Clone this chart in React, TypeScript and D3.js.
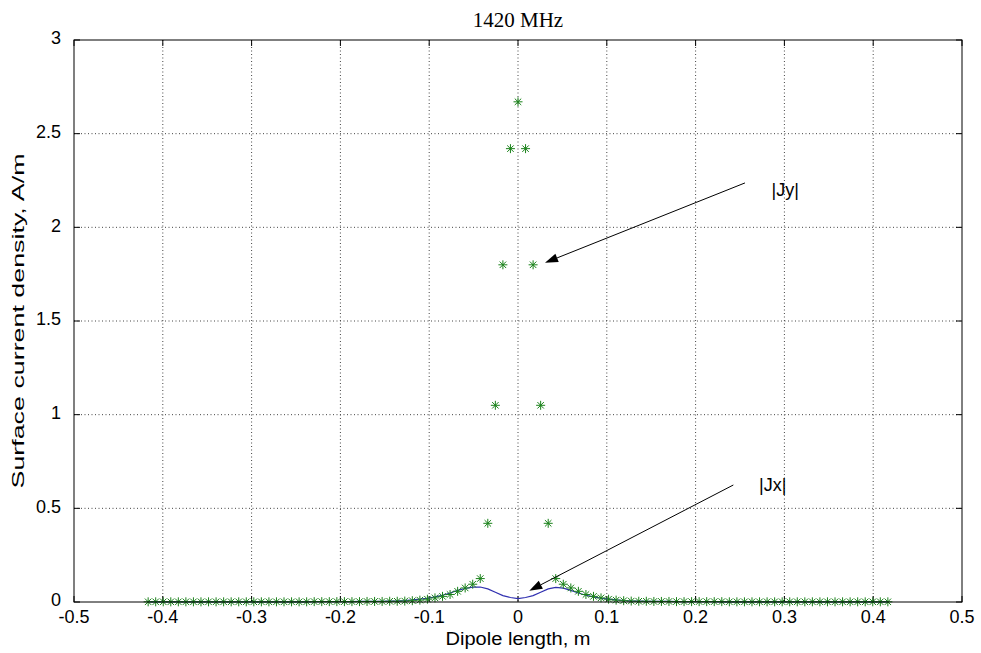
import React from "react";
import * as d3 from "d3";

const xPositions = [
  -0.4165, -0.408, -0.3995, -0.391, -0.3825, -0.374, -0.3655, -0.357, -0.3485, -0.34,
  -0.3315, -0.323, -0.3145, -0.306, -0.2975, -0.289, -0.2805, -0.272, -0.2635, -0.255,
  -0.2465, -0.238, -0.2295, -0.221, -0.2125, -0.204, -0.1955, -0.187, -0.1785, -0.17,
  -0.1615, -0.153, -0.1445, -0.136, -0.1275, -0.119, -0.1105, -0.102, -0.0935, -0.085,
  -0.0765, -0.068, -0.0595, -0.051, -0.0425, -0.034, -0.0255, -0.017, -0.0085, 0,
  0.0085, 0.017, 0.0255, 0.034, 0.0425, 0.051, 0.0595, 0.068, 0.0765, 0.085,
  0.0935, 0.102, 0.1105, 0.119, 0.1275, 0.136, 0.1445, 0.153, 0.1615, 0.17,
  0.1785, 0.187, 0.1955, 0.204, 0.2125, 0.221, 0.2295, 0.238, 0.2465, 0.255,
  0.2635, 0.272, 0.2805, 0.289, 0.2975, 0.306, 0.3145, 0.323, 0.3315, 0.34,
  0.3485, 0.357, 0.3655, 0.374, 0.3825, 0.391, 0.3995, 0.408, 0.4165,
];

// |Jy| samples (asterisks), one per x position
const jyValues = [
  0.001, 0.001, 0.001, 0.001, 0.001, 0.001, 0.001, 0.001, 0.001, 0.001,
  0.001, 0.001, 0.001, 0.001, 0.001, 0.001, 0.001, 0.001, 0.001, 0.001,
  0.001, 0.001, 0.002, 0.002, 0.002, 0.002, 0.002, 0.002, 0.002, 0.003,
  0.003, 0.003, 0.004, 0.004, 0.005, 0.007, 0.01, 0.015, 0.022, 0.03,
  0.04, 0.057, 0.075, 0.095, 0.125, 0.42, 1.05, 1.8, 2.42, 2.67,
  2.42, 1.8, 1.05, 0.42, 0.125, 0.095, 0.075, 0.057, 0.04, 0.03,
  0.022, 0.015, 0.01, 0.007, 0.005, 0.004, 0.004, 0.003, 0.003, 0.003,
  0.002, 0.002, 0.002, 0.002, 0.002, 0.002, 0.002, 0.001, 0.001, 0.001,
  0.001, 0.001, 0.001, 0.001, 0.001, 0.001, 0.001, 0.001, 0.001, 0.001,
  0.001, 0.001, 0.001, 0.001, 0.001, 0.001, 0.001, 0.001, 0.001,
];

// |Jx| samples (solid line), one per x position
const jxValues = [
  0.001, 0.001, 0.001, 0.001, 0.001, 0.001, 0.001, 0.001, 0.001, 0.001,
  0.001, 0.001, 0.001, 0.001, 0.001, 0.001, 0.001, 0.001, 0.001, 0.001,
  0.001, 0.001, 0.002, 0.002, 0.002, 0.002, 0.002, 0.002, 0.003, 0.003,
  0.003, 0.004, 0.005, 0.006, 0.008, 0.011, 0.015, 0.02, 0.027, 0.036,
  0.048, 0.062, 0.072, 0.079, 0.08, 0.07, 0.052, 0.034, 0.024, 0.018,
  0.024, 0.034, 0.052, 0.07, 0.078, 0.074, 0.062, 0.048, 0.036, 0.027,
  0.02, 0.015, 0.011, 0.008, 0.006, 0.005, 0.004, 0.003, 0.003, 0.003,
  0.002, 0.002, 0.002, 0.002, 0.002, 0.002, 0.001, 0.001, 0.001, 0.001,
  0.001, 0.001, 0.001, 0.001, 0.001, 0.001, 0.001, 0.001, 0.001, 0.001,
  0.001, 0.001, 0.001, 0.001, 0.001, 0.001, 0.001, 0.001, 0.001,
];

const xTicks = [-0.5, -0.4, -0.3, -0.2, -0.1, 0, 0.1, 0.2, 0.3, 0.4, 0.5];
const yTicks = [0, 0.5, 1, 1.5, 2, 2.5, 3];

const titleText = "1420 MHz";
const xLabel = "Dipole length, m";
const yLabel = "Surface current density, A/m";

// annotations in data units: arrow tail, arrow head, text anchor
const annotations = [
  { label: "|Jy|", x0: 0.2556, y0: 2.237, x1: 0.0304, y1: 1.811, lx: 0.2855, ly: 2.165 },
  { label: "|Jx|", x0: 0.2425, y0: 0.6246, x1: 0.0127, y1: 0.06, lx: 0.2715, ly: 0.59 },
];

const W = 981;
const H = 653;
const left = 74;
const right = 962;
const top = 40;
const bottom = 602;

export default function App() {
  const x = d3.scaleLinear().domain([-0.5, 0.5]).range([left, right]);
  const y = d3.scaleLinear().domain([0, 3]).range([bottom, top]);
  const jxPts = xPositions.map((v, i) => [v, jxValues[i]] as [number, number]);
  const line = d3
    .line<[number, number]>()
    .x((d) => x(d[0]))
    .y((d) => y(d[1]));
  const fmt = (v: number) => (v === 0 ? "0" : String(v));
  const font = "'Liberation Sans', Arial, sans-serif";
  const star = 4.5;
  const sd = star * 0.72;

  return (
    <svg
      width={W}
      height={H}
      style={{ position: "absolute", left: 0, top: 0, background: "#fff" }}
    >
      <rect x={0} y={0} width={W} height={H} fill="#fff" />
      {/* grid */}
      {xTicks.slice(1, -1).map((t) => (
        <line
          key={"gx" + t}
          x1={x(t)}
          x2={x(t)}
          y1={top}
          y2={bottom}
          stroke="#444"
          strokeWidth={1}
          strokeDasharray="1,2.5"
        />
      ))}
      {yTicks.slice(1, -1).map((t) => (
        <line
          key={"gy" + t}
          x1={left}
          x2={right}
          y1={y(t)}
          y2={y(t)}
          stroke="#444"
          strokeWidth={1}
          strokeDasharray="1,2.5"
        />
      ))}
      {/* ticks */}
      {xTicks.map((t) => (
        <g key={"tx" + t}>
          <line x1={x(t)} x2={x(t)} y1={bottom} y2={bottom - 6} stroke="#000" />
          <line x1={x(t)} x2={x(t)} y1={top} y2={top + 6} stroke="#000" />
          <text
            x={x(t)}
            y={bottom + 21}
            textAnchor="middle"
            fontFamily={font}
            fontSize={18}
          >
            {fmt(t)}
          </text>
        </g>
      ))}
      {yTicks.map((t) => (
        <g key={"ty" + t}>
          <line x1={left} x2={left + 6} y1={y(t)} y2={y(t)} stroke="#000" />
          <line x1={right} x2={right - 6} y1={y(t)} y2={y(t)} stroke="#000" />
          <text
            x={left - 13}
            y={y(t) - 2}
            dy="0.35em"
            textAnchor="end"
            fontFamily={font}
            fontSize={18}
          >
            {fmt(t)}
          </text>
        </g>
      ))}
      {/* Jx line */}
      <path
        d={line(jxPts) || ""}
        fill="none"
        stroke="#3030b0"
        strokeWidth={1.2}
      />
      {/* Jy stars */}
      {xPositions.map((v, i) => {
        const cx = x(v);
        const cy = y(jyValues[i]);
        return (
          <g key={"s" + i} stroke="#1a821a" strokeWidth={1}>
            <line x1={cx - star} x2={cx + star} y1={cy} y2={cy} />
            <line x1={cx} x2={cx} y1={cy - star} y2={cy + star} />
            <line x1={cx - sd} x2={cx + sd} y1={cy - sd} y2={cy + sd} />
            <line x1={cx - sd} x2={cx + sd} y1={cy + sd} y2={cy - sd} />
          </g>
        );
      })}
      {/* box */}
      <rect
        x={left}
        y={top}
        width={right - left}
        height={bottom - top}
        fill="none"
        stroke="#000"
        strokeWidth={1}
      />
      {/* annotations */}
      {annotations.map((a) => {
        const x0 = x(a.x0);
        const y0 = y(a.y0);
        const x1 = x(a.x1);
        const y1 = y(a.y1);
        const ang = Math.atan2(y1 - y0, x1 - x0);
        const hl = 13;
        const hw = 4.5;
        const bx = x1 - hl * Math.cos(ang);
        const by = y1 - hl * Math.sin(ang);
        const px = -Math.sin(ang) * hw;
        const py = Math.cos(ang) * hw;
        return (
          <g key={a.label}>
            <line x1={x0} y1={y0} x2={bx} y2={by} stroke="#000" strokeWidth={1} />
            <polygon
              points={`${x1},${y1} ${bx + px},${by + py} ${bx - px},${by - py}`}
              fill="#000"
            />
            <text x={x(a.lx)} y={y(a.ly)} fontFamily={font} fontSize={18}>
              {a.label}
            </text>
          </g>
        );
      })}
      {/* labels */}
      <text
        x={(left + right) / 2}
        y={27}
        textAnchor="middle"
        fontFamily="'Liberation Serif', 'Times New Roman', serif"
        fontSize={21}
      >
        {titleText}
      </text>
      <text
        x={(left + right) / 2}
        y={645}
        textAnchor="middle"
        fontFamily={font}
        fontSize={18}
        textLength={145}
        lengthAdjust="spacingAndGlyphs"
      >
        {xLabel}
      </text>
      <text
        transform={`translate(24, ${(top + bottom) / 2}) rotate(-90)`}
        textAnchor="middle"
        fontFamily={font}
        fontSize={17}
        textLength={335}
        lengthAdjust="spacingAndGlyphs"
      >
        {yLabel}
      </text>
    </svg>
  );
}
